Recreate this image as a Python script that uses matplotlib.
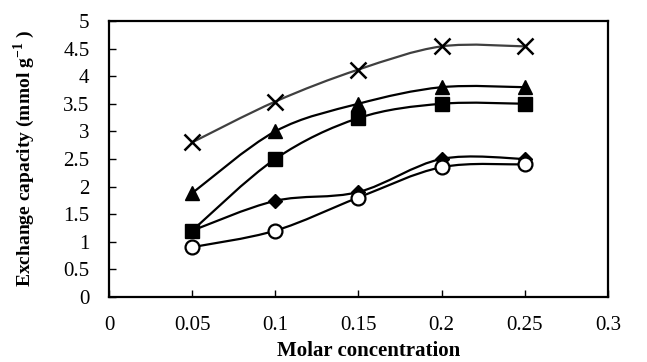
import matplotlib
matplotlib.use("Agg")
import matplotlib.pyplot as plt
from matplotlib.path import Path
from matplotlib.patches import PathPatch
import numpy as np

plt.rcParams["font.family"] = ["Liberation Serif", "DejaVu Serif"]
plt.rcParams["mathtext.fontset"] = "custom"
plt.rcParams["mathtext.rm"] = "Liberation Serif:bold"
plt.rcParams["mathtext.bf"] = "Liberation Serif:bold"

conc = [0.05, 0.1, 0.15, 0.2, 0.25]
cap_x = [2.8, 3.54, 4.12, 4.54, 4.54]
cap_tri = [1.88, 3.0, 3.5, 3.8, 3.8]
cap_sq = [1.2, 2.5, 3.24, 3.5, 3.5]
cap_dia = [1.2, 1.74, 1.9, 2.5, 2.5]
cap_circ = [0.9, 1.2, 1.8, 2.35, 2.4]

xticks = [0, 0.05, 0.1, 0.15, 0.2, 0.25, 0.3]
xlabels = ["0", "0.05", "0.1", "0.15", "0.2", "0.25", "0.3"]
yticks = [0, 0.5, 1, 1.5, 2, 2.5, 3, 3.5, 4, 4.5, 5]
ylabels = ["0", "0.5", "1", "1.5", "2", "2.5", "3", "3.5", "4", "4.5", "5"]


def smooth_path(x, y):
    # excel-like smoothed line: bezier through the points
    p = np.column_stack([x, y]).astype(float)
    ext = np.vstack([p[0], p, p[-1]])
    verts = [p[0]]
    codes = [Path.MOVETO]
    for i in range(len(p) - 1):
        p0, p1, p2, p3 = ext[i], ext[i + 1], ext[i + 2], ext[i + 3]
        c1 = p1 + (p2 - p0) / 6
        c2 = p2 - (p3 - p1) / 6
        verts += [c1, c2, p2]
        codes += [Path.CURVE4] * 3
    return Path(verts, codes)


fig = plt.figure(figsize=(6.47, 3.62), dpi=100)
ax = fig.add_axes([0.1685, 0.18, 0.771, 0.762])

series = [
    (cap_x, "#404040", dict(marker="x", ms=11, mew=1.8, mfc="none", mec="black")),
    (cap_tri, "black", dict(marker="^", ms=10.5, mfc="black", mec="black")),
    (cap_sq, "black", dict(marker="s", ms=10, mfc="black", mec="black")),
    (cap_dia, "black", dict(marker="D", ms=7, mfc="black", mec="black")),
    (cap_circ, "black", dict(marker="o", ms=10, mfc="white", mec="black", mew=1.6)),
]

for vals, col, mk in series:
    ax.add_patch(PathPatch(smooth_path(conc, vals), fill=False, ec=col, lw=1.6, zorder=2))
    ax.plot(conc, vals, ls="none", zorder=3, **mk)

ax.set_xlim(0, 0.3)
ax.set_ylim(0, 5)
ax.set_xticks(xticks)
ax.set_xticklabels(xlabels)
ax.set_yticks(yticks)
ax.set_yticklabels(ylabels)
ax.tick_params(axis="both", direction="in", length=5, width=1, labelsize=15)
ax.tick_params(axis="x", pad=14)
ax.tick_params(axis="y", pad=14)
for s in ax.spines.values():
    s.set_linewidth(1.6)

ax.set_xlabel("Molar concentration", fontsize=15, fontweight="bold")
ax.xaxis.set_label_coords(0.52, -0.16)
ax.set_ylabel("Exchange capacity (mmol g$^{-1}$ )", fontsize=14, fontweight="bold")
ax.yaxis.set_label_coords(-0.145, 0.5)

fig.savefig("out.png", dpi=100)
